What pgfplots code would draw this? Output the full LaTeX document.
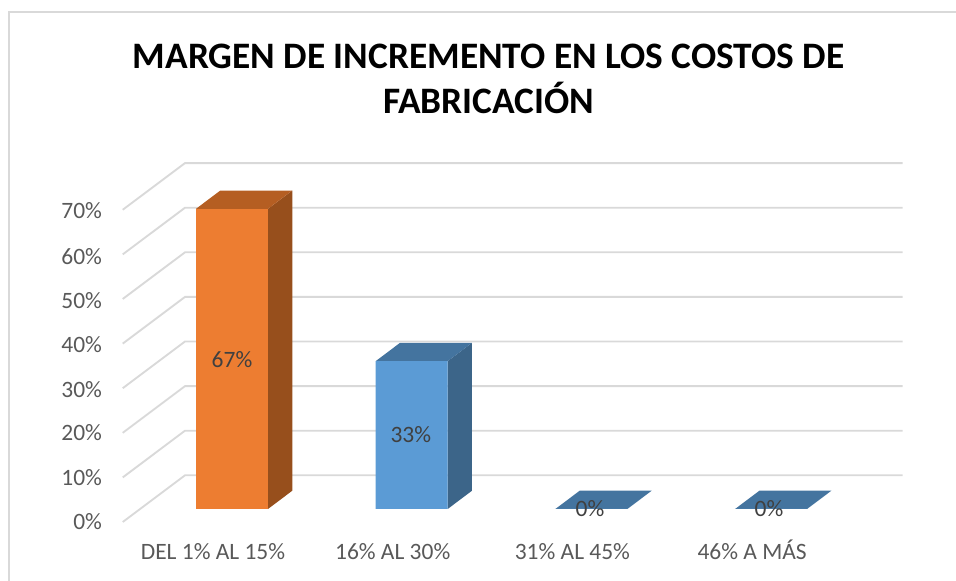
\documentclass[border=0pt]{standalone}
\usepackage{pgfplots}
\pgfplotsset{compat=1.18}
\usepackage{fontspec}
\setmainfont{Carlito}
\definecolor{gridc}{HTML}{D9D9D9}
\definecolor{labc}{HTML}{595959}
\definecolor{datac}{HTML}{404040}
\definecolor{ofront}{HTML}{ED7D31}
\definecolor{otop}{HTML}{B55E22}
\definecolor{oside}{HTML}{974F1C}
\definecolor{bfront}{HTML}{5B9BD5}
\definecolor{btop}{HTML}{44749F}
\definecolor{bside}{HTML}{3C6589}
\begin{document}
\begin{tikzpicture}
\useasboundingbox (0,0) rectangle (717pt,435.75pt);
\draw[gridc,line width=1.4pt] (6.75pt,0) -- (6.75pt,426.75pt) -- (717pt,426.75pt);
\begin{axis}[
  at={(84pt,36pt)},anchor=south west,
  scale only axis,width=621pt,height=384.75pt,
  xmin=-0.6678,xmax=3.940,ymin=-5.357,ymax=109.15,
  clip=false,
  axis line style={draw=none},
  major tick length=0pt,
  tick style={draw=none},
  xtick={0,1,2,3},
  xticklabels={DEL 1\% AL 15\%,16\% AL 30\%,31\% AL 45\%,46\% A MÁS},
  ytick={-2.455,7.37,17.4,27.2,37.2,47.0,56.8,67.0},
  yticklabels={0\%,10\%,20\%,30\%,40\%,50\%,60\%,70\%},
  tick label style={font=\fontsize{17.6pt}{20pt}\selectfont,text=labc},
  xticklabel style={xshift=-14.25pt,yshift=-4.5pt,text height=12pt,text depth=0pt},
  yticklabel style={xshift=-4pt,yshift=-1.5pt},
  title style={at={(axis cs:1.428,109.15)},anchor=north,align=center,yshift=-20.75pt,font=\fontsize{28pt}{33.75pt}\selectfont\bfseries,text=black},
  title={MARGEN DE INCREMENTO EN LOS COSTOS DE\\FABRICACIÓN},
]
\pgfplotsset{every axis plot/.append style={forget plot}}
\addplot[gridc,line width=1.4pt] coordinates {(-0.608,-2.90)(-0.2615,7.52)(3.732,7.52)};
\addplot[gridc,line width=1.4pt] coordinates {(-0.608,7.05)(-0.2615,17.48)(3.732,17.48)};
\addplot[gridc,line width=1.4pt] coordinates {(-0.608,17.0)(-0.2615,27.43)(3.732,27.43)};
\addplot[gridc,line width=1.4pt] coordinates {(-0.608,26.96)(-0.2615,37.39)(3.732,37.39)};
\addplot[gridc,line width=1.4pt] coordinates {(-0.608,36.92)(-0.2615,47.34)(3.732,47.34)};
\addplot[gridc,line width=1.4pt] coordinates {(-0.608,46.88)(-0.2615,57.3)(3.732,57.3)};
\addplot[gridc,line width=1.4pt] coordinates {(-0.608,56.83)(-0.2615,67.25)(3.732,67.25)};
\addplot[gridc,line width=1.4pt] coordinates {(-0.608,66.79)(-0.2615,77.21)(3.732,77.21)};
% orange bar
\addplot[draw=none,fill=oside] coordinates {(0.2003,0)(0.3355,4.085)(0.3355,71.085)(0.2003,67)} --cycle;
\addplot[draw=none,fill=otop] coordinates {(-0.2003,67)(0.2003,67)(0.3355,71.085)(-0.0651,71.085)} --cycle;
\addplot[ybar,bar width=54pt,bar shift=0pt,draw=none,fill=ofront] coordinates {(0,67)};
% blue bars
\addplot[draw=none,fill=bside] coordinates {(1.2003,0)(1.3355,4.085)(1.3355,37.085)(1.2003,33)} --cycle;
\addplot[draw=none,fill=btop] coordinates {(0.7997,33)(1.2003,33)(1.3355,37.085)(0.9349,37.085)} --cycle;
\addplot[draw=none,fill=btop] coordinates {(1.7997,0)(2.2003,0)(2.3355,4.085)(1.9349,4.085)} --cycle;
\addplot[draw=none,fill=btop] coordinates {(2.7997,0)(3.2003,0)(3.3355,4.085)(2.9349,4.085)} --cycle;
\addplot[ybar,bar width=54pt,bar shift=0pt,draw=none,fill=bfront] coordinates {(1,33)(2,0)(3,0)};
% data labels
\node[text=datac,font=\fontsize{17.6pt}{20pt}\selectfont] at (axis cs:0,33.3) {67\%};
\node[text=datac,font=\fontsize{17.6pt}{20pt}\selectfont] at (axis cs:0.995,16.5) {33\%};
\node[text=datac,font=\fontsize{17.6pt}{20pt}\selectfont] at (axis cs:1.992,0) {0\%};
\node[text=datac,font=\fontsize{17.6pt}{20pt}\selectfont] at (axis cs:2.988,0) {0\%};
\end{axis}
\end{tikzpicture}
\end{document}
